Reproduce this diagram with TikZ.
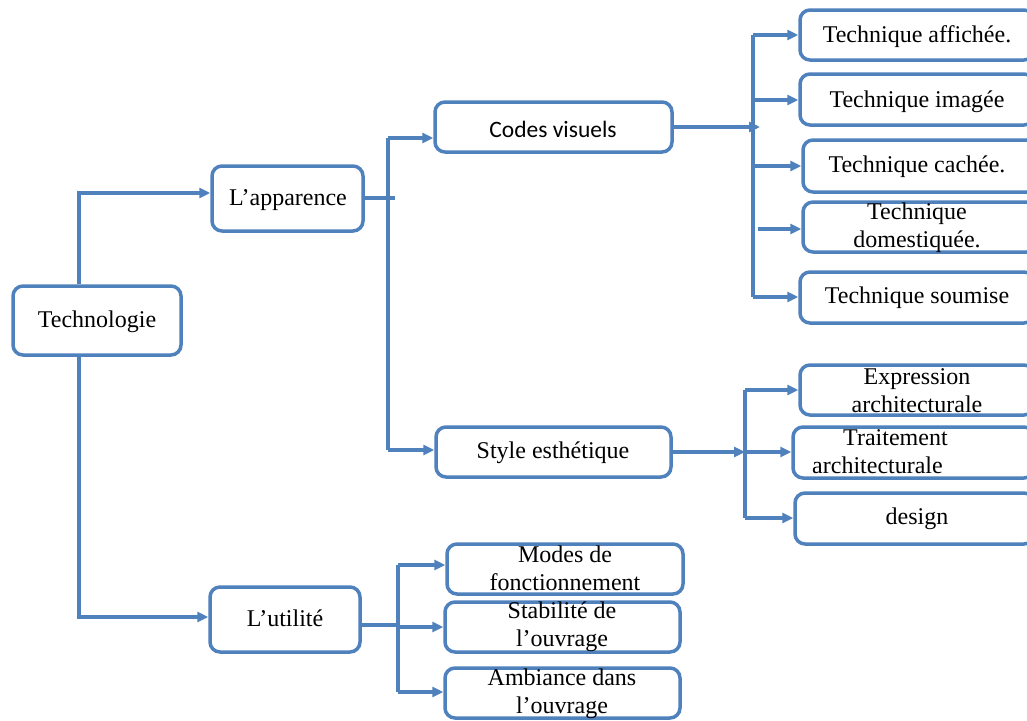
\documentclass[tikz,border=0pt]{standalone}
\usepackage{fontspec}
\setmainfont{Liberation Serif}
\newfontfamily\calibri{Carlito}
\usetikzlibrary{arrows.meta}
\definecolor{officeblue}{HTML}{4F81BD}
\tikzset{
  x=1pt, y=-1pt,
  box/.style={draw=officeblue, line width=3.5pt, rounded corners=10pt, fill=white, inner sep=0pt},
  txt/.style={inner sep=0pt, font=\fontsize{24}{28}\selectfont, text=black, align=center},
  one/.style={txt, text height=17pt, text depth=5pt},
  link/.style={draw=officeblue, line width=4pt},
  arrow/.style={link, -{Triangle[length=11pt,width=10pt]}},
}
% \mkbox{name}{left}{top}{right}{bottom}
\newcommand\mkbox[5]{%
  \node[box, minimum width={(#4-#2)*1pt}, minimum height={(#5-#3)*1pt}]
    (#1) at ({(#2+#4)/2},{(#3+#5)/2}) {};}
\begin{document}
\begin{tikzpicture}
\useasboundingbox[fill=white] (0,0) rectangle (1027,720);

% boxes
\mkbox{tech}{13}{286}{181}{355}
\mkbox{app}{212}{166}{363}{231}
\mkbox{util}{210}{587}{360}{652}
\mkbox{codes}{435}{102}{672}{152}
\mkbox{style}{436}{427}{671}{477}
\mkbox{t1}{800}{10}{1034}{60}
\mkbox{t2}{800}{74}{1034}{125}
\mkbox{t3}{803}{140}{1037}{192}
\mkbox{t4}{803}{202}{1037}{252}
\mkbox{t5}{800}{272}{1034}{323}
\mkbox{e1}{800}{365}{1034}{415}
\mkbox{e2}{793}{427}{1034}{478}
\mkbox{e3}{795}{493}{1034}{544}
\mkbox{u1}{447}{544}{683}{594}
\mkbox{u2}{445}{602}{680}{652}
\mkbox{u3}{445}{668}{680}{718}

% labels
\node[one] (tech-l) at (97,321) {Technologie};
\node[one] (app-l) at (288,199) {L’apparence};
\node[one] (util-l) at (285,620) {L’utilité};
\node[one, font=\calibri\fontsize{23.5}{28}\selectfont] (codes-l) at (553,131) {Codes visuels};
\node[one] (style-l) at (553,452) {Style esthétique};
\node[one] (t1-l) at (917,36) {Technique affichée.};
\node[one] (t2-l) at (917,101) {Technique imagée};
\node[one] (t3-l) at (917,166) {Technique cachée.};
\node[txt] (t4-l) at (917,228) {Technique\\domestiquée.};
\node[one] (t5-l) at (917,297) {Technique soumise};
\node[txt] (e1-l) at (917,391) {Expression\\architecturale};
\node[txt, align=left, anchor=west] (e2-l) at (812,452) {\hspace*{31pt}Traitement\\architecturale};
\node[one] (e3-l) at (917,518) {design};
\node[txt] (u1-l) at (565,568) {Modes de\\fonctionnement};
\node[txt] (u2-l) at (562,627) {Stabilité de\\l’ouvrage};
\node[txt] (u3-l) at (562,694) {Ambiance dans\\l’ouvrage};

% junction points
\coordinate (ja) at (79,193);
\coordinate (ju) at (79,617);
\coordinate (jc) at (388,138);
\coordinate (js) at (388,450);
\coordinate (jt) at (753,35);
\coordinate (jtb) at (753,297);
\coordinate (je) at (745,390);
\coordinate (jeb) at (745,518);
\coordinate (jm) at (398,565);
\coordinate (jmb) at (398,692);

% Technologie -> L'apparence / L'utilité
\draw[arrow] (tech.north -| ja) |- (app.west |- ja);
\draw[arrow] (tech.south -| ju) |- (util.west |- ju);

% L'apparence -> Codes visuels / Style esthétique
\draw[link] (app.east |- 0,198) -- (395,198);
\draw[link] (jc) -- (js);
\draw[arrow] (jc) -- (codes.west |- jc);
\draw[arrow] (js) -- (style.west |- js);

% Codes visuels -> techniques
\draw[arrow] (codes.east |- 0,127) -- (760,127);
\draw[link] (jt) -- (jtb);
\draw[arrow] (jt) -- (t1.west |- jt);
\draw[arrow] (753,100) -- (t2.west |- 0,100);
\draw[arrow] (753,166) -- (t3.west |- 0,166);
\draw[arrow] (758,229) -- (t4.west |- 0,229);
\draw[arrow] (jtb) -- (t5.west |- jtb);

% Style esthétique -> expression / traitement / design
\draw[arrow] (style.east) -- (745,452);
\draw[link] (je) -- (jeb);
\draw[arrow] (je) -- (e1.west |- je);
\draw[arrow] (745,452) -- (e2.west |- 0,452);
\draw[arrow] (jeb) -- (e3.west |- jeb);

% L'utilité -> modes / stabilité / ambiance
\draw[link] (util.east |- 0,625) -- (jm |- 0,625);
\draw[link] (jm) -- (jmb);
\draw[arrow] (jm) -- (u1.west |- jm);
\draw[arrow] (398,627) -- (u2.west |- 0,627);
\draw[arrow] (jmb) -- (u3.west |- jmb);
\end{tikzpicture}
\end{document}
